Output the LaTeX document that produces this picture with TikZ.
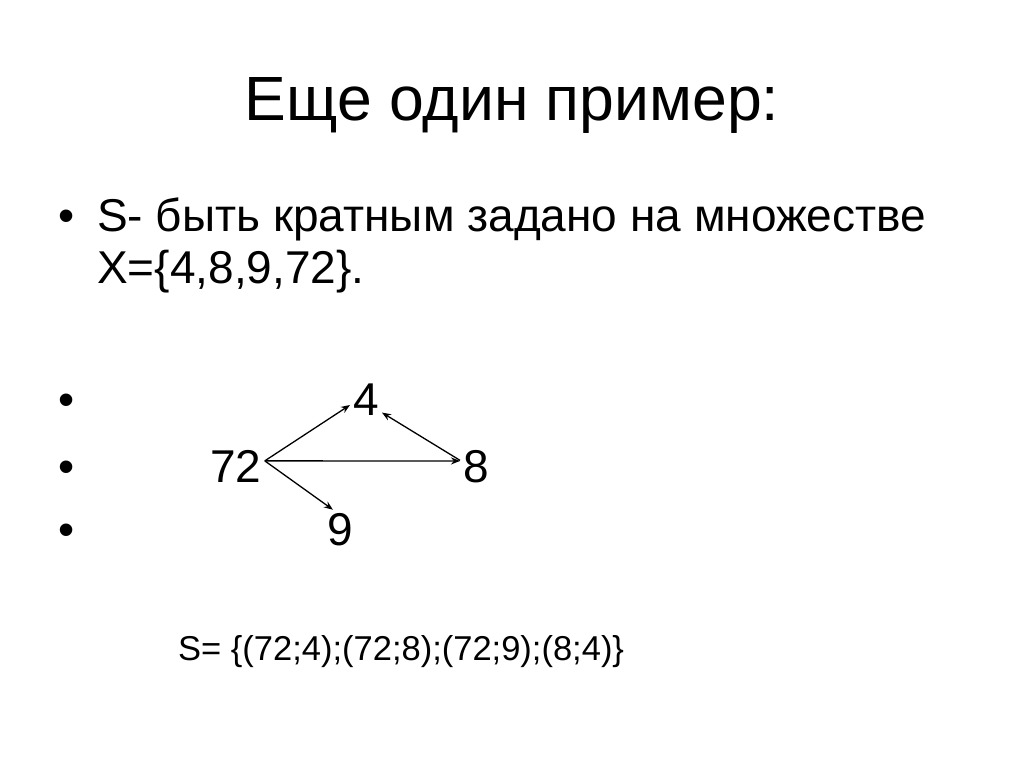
\documentclass[tikz,border=0pt]{standalone}
\usepackage{fontspec}
\setmainfont{Liberation Sans}
\usetikzlibrary{arrows.meta}
\begin{document}
\begin{tikzpicture}
  [x=1pt,y=-1pt,
   txt/.style={anchor=base west,inner sep=0pt,font=\fontsize{46}{46}\selectfont},
   vert/.style={anchor=base,inner sep=3pt,font=\fontsize{46}{46}\selectfont},
   arc/.style={-{Stealth[length=9pt,width=7pt]},line width=1.3pt}]
  \useasboundingbox (0,0) rectangle (1024,767);
  \node[anchor=base,inner sep=0pt,font=\fontsize{62.5}{62.5}\selectfont](title) at (512,121) {Еще один пример:};
  \node[txt](b1) at (58,232) {•};
  \node[txt](line1) at (97,232) {S- быть кратным задано на множестве};
  \node[txt](line2) at (97,283) {X=\{4,8,9,72\}.};
  \node[txt](b2) at (58,415) {•};
  \node[txt](b3) at (58,482) {•};
  \node[txt](b4) at (58,545) {•};
  \node[vert](4) at (366,415) {4};
  \node[vert](72) at (236,482) {72};
  \node[vert](8) at (476,482) {8};
  \node[vert](9) at (340,545) {9};
  \draw[arc](72.10) -- (4.200);
  \draw[arc](72.10) -- (8.162);
  \draw[arc](72.10) -- (9.110);
  \draw[arc](8.160) -- (4.-40);
  \node[anchor=base west,inner sep=0pt,font=\fontsize{34.5}{34.5}\selectfont](set) at (178,660) {S= \{(72;4);(72;8);(72;9);(8;4)\}};
\end{tikzpicture}
\end{document}
